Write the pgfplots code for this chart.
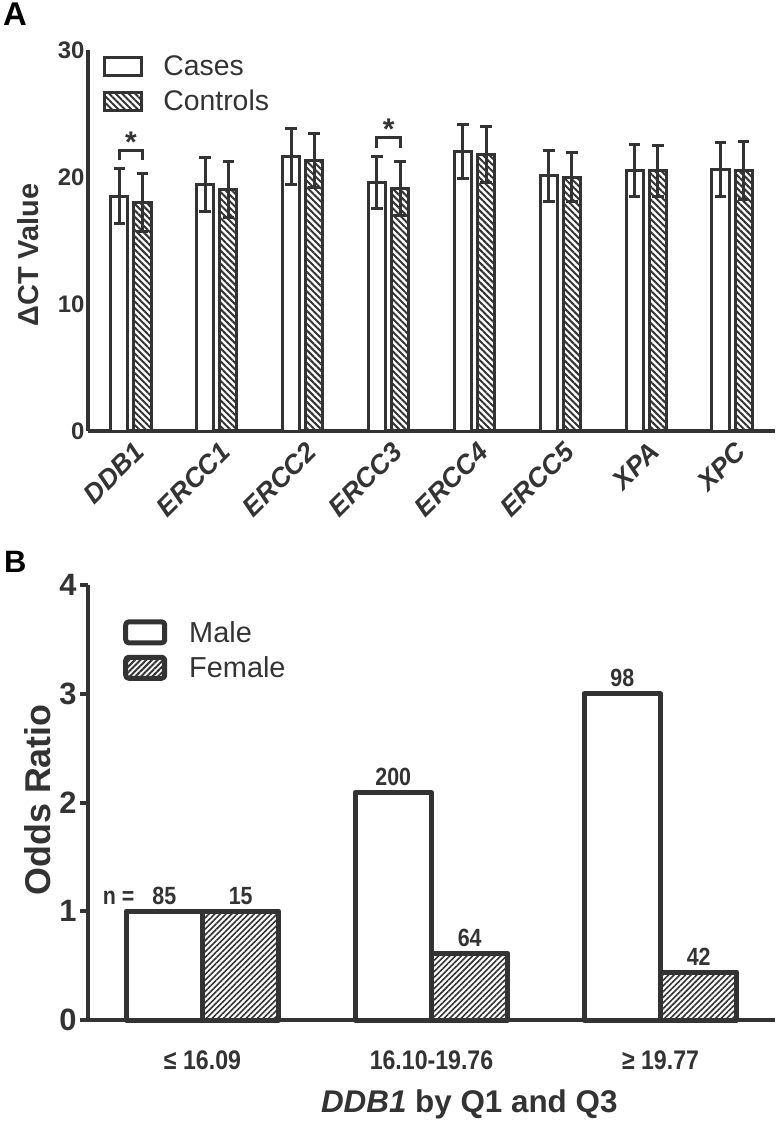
\documentclass[border=0pt]{standalone}
\usepackage{fontspec}
\setmainfont{Liberation Sans}
\newfontfamily\narrowfont[FakeStretch=0.86]{Liberation Sans}
\usepackage{pgfplots}
\usepackage{pgfplotstable}
\pgfplotsset{compat=1.18}
\usetikzlibrary{patterns.meta}
\definecolor{dk}{RGB}{51,51,51}

\pgfplotstableread{
x y e
0 18.5 2.2
1 19.4 2.1
2 21.6 2.2
3 19.6 2.05
4 22.0 2.1
5 20.1 2.0
6 20.5 2.05
7 20.6 2.1
}\tabCases
\pgfplotstableread{
x y e
0 18.0 2.3
1 19.0 2.2
2 21.3 2.1
3 19.1 2.1
4 21.8 2.2
5 20.0 1.9
6 20.5 2.0
7 20.5 2.3
}\tabControls

\begin{document}
\begin{tikzpicture}
% ---------------- Panel A ----------------
\begin{axis}[
  at={(88bp,-431bp)}, anchor=south west,
  scale only axis, width=687bp, height=381bp,
  xmin=-0.5, xmax=7.5, ymin=0, ymax=30,
  axis x line*=bottom, axis y line*=left,
  axis line style={line width=3.5bp, dk, -},
  clip=false,
  ybar, bar width=0.2,
  xtick={0,...,7},
  xticklabels={DDB1,ERCC1,ERCC2,ERCC3,ERCC4,ERCC5,XPA,XPC},
  xtick style={draw=none},
  ytick={0,10,20,30}, ytick style={draw=none},
  /pgf/number format/assume math mode=true,
  yticklabel style={font=\fontsize{24}{24}\selectfont\bfseries, text=dk},
  xticklabel style={font=\fontsize{27}{27}\selectfont\bfseries\itshape, text=dk, rotate=45, anchor=north east, inner sep=2bp, yshift=-3bp},
  ylabel={ΔCT Value},
  ylabel style={at={(axis description cs:-0.087,0.462)}, anchor=center, font=\fontsize{29}{29}\selectfont\bfseries, text=dk},
  legend style={at={(rel axis cs:0.022,0.99)}, anchor=north west, draw=none, fill=none,
    font=\fontsize{28.5}{28.5}\selectfont, text=dk, row sep=9bp, inner sep=0pt,
    cells={anchor=west}, /tikz/every odd column/.append style={column sep=18bp}},
  error bars/y dir=both, error bars/y explicit,
  error bars/error bar style={line width=3bp, dk},
  error bars/error mark options={rotate=90, mark size=5.8bp, line width=3bp, dk},
]
\addplot[bar shift=-0.135, draw=dk, fill=white, line width=3bp,
  legend image code/.code={\draw[draw=dk, fill=white, line width=3bp] (0bp,-9bp) rectangle (37bp,9bp);}]
  table[x=x, y=y, y error=e] {\tabCases};
\addlegendentry{Cases}
\addplot[bar shift=0.135, draw=dk, line width=3bp,
  pattern={Lines[angle=-45, distance=4.6bp, line width=2bp]}, pattern color=dk,
  legend image code/.code={\draw[draw=dk, line width=3bp, pattern={Lines[angle=-45, distance=4.6bp, line width=2bp]}, pattern color=dk] (0bp,-9bp) rectangle (37bp,9bp);}]
  table[x=x, y=y, y error=e] {\tabControls};
\addlegendentry{Controls}
% significance brackets
\draw[dk, line width=3bp] (axis cs:-0.135,21.3) |- (axis cs:0.135,22.1) -- (axis cs:0.135,21.3);
\node[text=dk, font=\fontsize{30}{30}\selectfont\bfseries] at (axis cs:0,22.75) {*};
\draw[dk, line width=3bp] (axis cs:2.865,22.3) |- (axis cs:3.135,23.1) -- (axis cs:3.135,22.3);
\node[text=dk, font=\fontsize{30}{30}\selectfont\bfseries] at (axis cs:3,23.75) {*};
\end{axis}

% ---------------- Panel B ----------------
\begin{axis}[
  at={(88bp,-1020bp)}, anchor=south west,
  scale only axis, width=687bp, height=435bp,
  xmin=-0.5, xmax=2.5, ymin=0, ymax=4,
  axis x line*=bottom, axis y line*=left,
  axis line style={line width=4bp, dk, -},
  clip=false,
  ybar, bar width=0.334,
  xtick={0,1,2},
  xticklabels={≤ 16.09,16.10-19.76,≥ 19.77},
  xtick style={draw=none},
  ytick={0,1,2,3,4},
  ytick style={line width=4bp, dk}, tick align=outside, major tick length=8bp,
  /pgf/number format/assume math mode=true,
  yticklabel style={font=\fontsize{31}{31}\selectfont\bfseries, text=dk},
  xticklabel style={font=\narrowfont\fontsize{27}{27}\selectfont\bfseries, text=dk, yshift=-19bp},
  xlabel={\textit{DDB1} by Q1 and Q3},
  xlabel style={at={(axis description cs:0.555,-0.195)}, anchor=center, font=\fontsize{31.5}{31.5}\selectfont\bfseries, text=dk},
  ylabel={Odds Ratio},
  ylabel style={at={(axis description cs:-0.073,0.506)}, anchor=center, font=\fontsize{36}{36}\selectfont\bfseries, text=dk},
  legend style={at={(rel axis cs:0.051,0.922)}, anchor=north west, draw=none, fill=none,
    font=\fontsize{29}{29}\selectfont, text=dk, row sep=9bp, inner sep=0pt,
    cells={anchor=west}, /tikz/every odd column/.append style={column sep=20bp}},
  nodes near coords, point meta=explicit symbolic,
  every node near coord/.append style={font=\narrowfont\fontsize{25}{25}\selectfont\bfseries, text=dk, anchor=south, yshift=1bp},
]
\addplot[bar shift=-0.167, draw=dk, fill=white, line width=5bp, line join=round,
  legend image code/.code={\draw[draw=dk, fill=white, line width=5bp, rounded corners=3bp] (0bp,-10.5bp) rectangle (39bp,10.5bp);}]
  coordinates {(0,1) [\llap{n =\ \ \ }85] (1,2.09) [200] (2,3.0) [98]};
\addlegendentry{Male}
\addplot[bar shift=0.167, draw=dk, line width=5bp, line join=round,
  pattern={Lines[angle=45, distance=4bp, line width=1.6bp]}, pattern color=dk,
  legend image code/.code={\draw[draw=dk, line width=5bp, rounded corners=3bp, pattern={Lines[angle=45, distance=4bp, line width=2bp]}, pattern color=dk] (0bp,-10.5bp) rectangle (39bp,10.5bp);}]
  coordinates {(0,1) [15] (1,0.61) [64] (2,0.44) [42]};
\addlegendentry{Female}
\end{axis}

% panel letters
\node[anchor=north west, inner sep=0pt, font=\fontsize{33}{33}\selectfont\bfseries] at (3bp,-3bp) {A};
\node[anchor=north west, inner sep=0pt, font=\fontsize{31}{31}\selectfont\bfseries] at (4bp,-551bp) {B};

\pgfresetboundingbox
\useasboundingbox (0,0) rectangle (776bp,-1123bp);
\end{tikzpicture}
\end{document}
